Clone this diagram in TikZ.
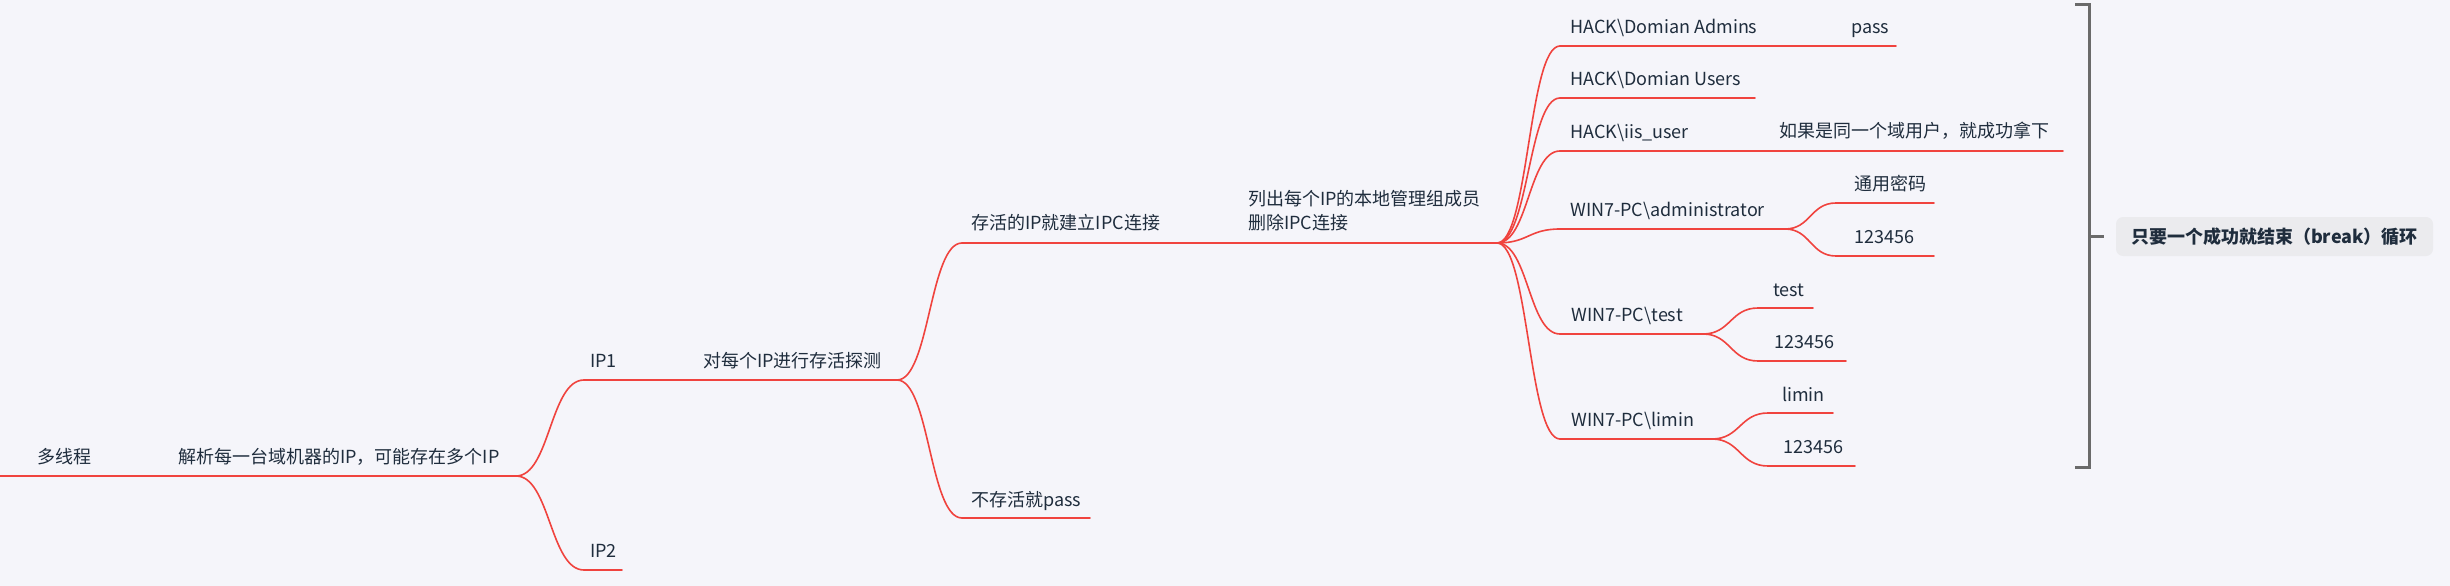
\documentclass[tikz,border=0pt]{standalone}
\usepackage{fontspec}
\setmainfont{Noto Sans CJK SC}
\usetikzlibrary{calc}
\definecolor{bg}{HTML}{F5F5FA}
\definecolor{ln}{HTML}{F0433E}
\definecolor{tx}{HTML}{1F2D3D}
\definecolor{br}{HTML}{6A6A6A}
\definecolor{bx}{HTML}{EBEBEE}
\tikzset{
  link/.style={draw=ln, line width=1.6pt, line cap=round},
  lbl/.style={anchor=west, inner sep=0pt, text=tx, font=\fontsize{18}{24}\selectfont, text height=15.5pt, text depth=2.5pt},
  mlbl/.style={anchor=west, inner sep=0pt, text=tx, font=\fontsize{18}{24}\selectfont, align=left},
  brk/.style={draw=br, line width=3pt},
  sumbox/.style={fill=bx, rounded corners=7pt, inner sep=0pt, minimum width=317pt, minimum height=39pt, text=tx, font=\fontsize{18}{24}\selectfont\bfseries}
}
\newcommand\mmcurve[2]{\draw[link] let \p1=(#1), \p2=(#2) in (\p1) .. controls ({0.5*\x1+0.5*\x2},\y1) and ({0.5*\x1+0.5*\x2},\y2) .. (\p2);}
\begin{document}
\begin{tikzpicture}[x=1pt,y=-1pt]
\fill[bg] (0,0) rectangle (2450,586);
\useasboundingbox (0,0) rectangle (2450,586);

% ---------- root ----------
\node[lbl] (t0) at (37,457) {多线程};
\node[lbl] (t1) at (178,457) {解析每一台域机器的IP，可能存在多个IP};
\coordinate (s0) at (0,476);
\coordinate (f0) at (516,476);
\draw[link] (s0) -- (f0);

% ---------- IP1 / IP2 ----------
\coordinate (ip1s) at (584,380);
\coordinate (f1) at (897,380);
\node[lbl] (tip1) at (590,361) {IP1};
\node[lbl] (tip1b) at (703,361) {对每个IP进行存活探测};
\mmcurve{f0}{ip1s}
\draw[link] (ip1s) -- (f1);

\coordinate (ip2s) at (584,570);
\coordinate (ip2e) at (622,570);
\node[lbl] (tip2) at (590,551) {IP2};
\mmcurve{f0}{ip2s}
\draw[link] (ip2s) -- (ip2e);

% ---------- alive / not alive ----------
\coordinate (a1s) at (962,243);
\coordinate (f2) at (1497,243);
\node[lbl] (ta1) at (971,223) {存活的IP就建立IPC连接};
\node[mlbl] (ta2) at (1248,211) {列出每个IP的本地管理组成员\\删除IPC连接};
\mmcurve{f1}{a1s}
\draw[link] (a1s) -- (f2);

\coordinate (a2s) at (962,518);
\coordinate (a2e) at (1090,518);
\node[lbl] (tna) at (971,500) {不存活就pass};
\mmcurve{f1}{a2s}
\draw[link] (a2s) -- (a2e);

% ---------- group members ----------
\coordinate (g1s) at (1560,46);  \coordinate (g1e) at (1896,46);
\coordinate (g2s) at (1560,98);  \coordinate (g2e) at (1755,98);
\coordinate (g3s) at (1560,151); \coordinate (g3e) at (2063,151);
\coordinate (g4s) at (1560,229); \coordinate (f3) at (1785,229);
\coordinate (g5s) at (1560,334); \coordinate (f4) at (1703,334);
\coordinate (g6s) at (1560,439); \coordinate (f5) at (1712,439);
\foreach \c in {g1s,g2s,g3s,g4s,g5s,g6s}{\mmcurve{f2}{\c}}
\draw[link] (g1s) -- (g1e);
\draw[link] (g2s) -- (g2e);
\draw[link] (g3s) -- (g3e);
\draw[link] (g4s) -- (f3);
\draw[link] (g5s) -- (f4);
\draw[link] (g6s) -- (f5);

\node[lbl] (tg1) at (1570,27) {HACK\textbackslash Domian Admins};
\node[lbl] (tg1b) at (1851,27) {pass};
\node[lbl] (tg2) at (1570,79) {HACK\textbackslash Domian Users};
\node[lbl] (tg3) at (1570,132) {HACK\textbackslash iis\_user};
\node[lbl] (tg3b) at (1779,131) {如果是同一个域用户，就成功拿下};
\node[lbl] (tg4) at (1570,210) {WIN7-PC\textbackslash administrator};
\node[lbl] (tg5) at (1571,315) {WIN7-PC\textbackslash test};
\node[lbl] (tg6) at (1571,420) {WIN7-PC\textbackslash limin};

% administrator passwords
\coordinate (p1s) at (1836,203); \coordinate (p1e) at (1934,203);
\coordinate (p2s) at (1836,256); \coordinate (p2e) at (1934,256);
\mmcurve{f3}{p1s} \mmcurve{f3}{p2s}
\draw[link] (p1s) -- (p1e);
\draw[link] (p2s) -- (p2e);
\node[lbl] (tp1) at (1854,184) {通用密码};
\node[lbl] (tp2) at (1854,237) {123456};

% test passwords
\coordinate (q1s) at (1758,308); \coordinate (q1e) at (1813,308);
\coordinate (q2s) at (1758,361); \coordinate (q2e) at (1846,361);
\mmcurve{f4}{q1s} \mmcurve{f4}{q2s}
\draw[link] (q1s) -- (q1e);
\draw[link] (q2s) -- (q2e);
\node[lbl] (tq1) at (1773,290) {test};
\node[lbl] (tq2) at (1774,342) {123456};

% limin passwords
\coordinate (r1s) at (1768,413); \coordinate (r1e) at (1833,413);
\coordinate (r2s) at (1768,466); \coordinate (r2e) at (1855,466);
\mmcurve{f5}{r1s} \mmcurve{f5}{r2s}
\draw[link] (r1s) -- (r1e);
\draw[link] (r2s) -- (r2e);
\node[lbl] (tr1) at (1782,395) {limin};
\node[lbl] (tr2) at (1783,447) {123456};

% ---------- bracket + summary ----------
\coordinate (b1) at (2075,5);
\coordinate (b2) at (2089,5);
\coordinate (b3) at (2089,467);
\coordinate (b4) at (2075,467);
\coordinate (bm) at (2089,236);
\coordinate (bt) at (2104,236);
\draw[brk] (b1) -- (b2) -- (b3) -- (b4);
\draw[brk] (bm) -- (bt);
\node[sumbox] (sum) at (2274.5,236.5) {只要一个成功就结束（break）循环};
\end{tikzpicture}
\end{document}
